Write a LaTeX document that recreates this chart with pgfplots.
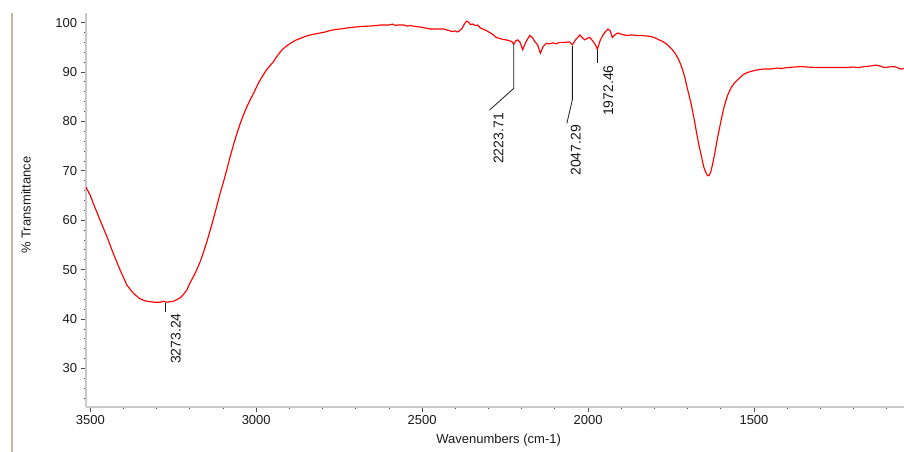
\documentclass[border=0pt]{standalone}
\usepackage{pgfplots}
\pgfplotsset{compat=1.18}
\usepackage{fontspec}
\setmainfont{Liberation Sans}
\definecolor{axisgray}{RGB}{200,200,200}
\definecolor{bargray}{RGB}{190,184,160}
\definecolor{specred}{RGB}{255,0,0}
\definecolor{txt}{RGB}{25,25,25}
\newcommand{\tf}{\fontsize{13bp}{15bp}\selectfont}
\newcommand{\pf}{\fontsize{14bp}{16bp}\selectfont}
\begin{document}
\begin{tikzpicture}
\useasboundingbox (-86bp,-45bp) rectangle (818bp,407bp);
\fill[bargray] (-75bp,-45bp) rectangle (-72.5bp,394.3bp);
\begin{axis}[
  at={(0,0)}, anchor=south west,
  scale only axis, width=818bp, height=394.3bp,
  xmin=1048, xmax=3513, ymin=22.2, ymax=102,
  x dir=reverse,
  axis x line*=bottom, axis y line*=left,
  axis line style={axisgray, line width=2.5bp},
  xtick={1500,2000,2500,3000,3500},
  ytick={30,40,...,100},
  minor xtick={1100,1200,...,3500},
  minor ytick={24,26,...,100},
  tick align=outside,
  major tick length=5bp, minor tick length=2bp,
  tick style={black!70, line width=0.8bp},
  /pgf/number format/1000 sep={},
  /pgf/number format/assume math mode=true,
  ticklabel style={font=\tf, text=txt, inner sep=0pt},
  xticklabel style={yshift=-3bp},
  yticklabel style={xshift=-3.7bp},
  xlabel={Wavenumbers (cm-1)},
  ylabel={\% Transmittance},
  every axis x label/.style={at={(axis description cs:0.5045,-0.0837)}, anchor=center, font=\tf, text=txt},
  every axis y label/.style={at={(axis description cs:-0.0733,0.512)}, anchor=center, rotate=90, font=\tf, text=txt},
]
\addplot[specred, line width=1.15bp] coordinates {
(3513,66.7) (3500,65.0) (3491,63.4) (3471,60.1) (3450,56.7) (3431,53.3) (3410,49.9)
(3390,46.9) (3375,45.6) (3365,44.9) (3350,44.1) (3335,43.7) (3320,43.5) (3305,43.4)
(3290,43.4) (3280,43.6) (3270,43.4) (3260,43.5) (3250,43.6) (3240,43.9) (3229,44.3)
(3219,45.0) (3209,45.9) (3199,47.4) (3189,48.6) (3179,50.0) (3169,51.6) (3159,53.5)
(3149,55.6) (3139,57.9) (3129,60.3) (3119,62.8) (3109,65.4) (3098,67.9) (3088,70.4)
(3078,73.0) (3068,75.4) (3058,77.6) (3048,79.6) (3038,81.4) (3028,83.0) (3018,84.4)
(3008,85.7) (2998,87.1) (2988,88.4) (2978,89.5) (2968,90.5) (2958,91.3) (2948,92.1)
(2935,93.4) (2922,94.5) (2910,95.2) (2897,95.8) (2882,96.4) (2867,96.8) (2852,97.2)
(2837,97.5) (2822,97.7) (2807,97.9) (2792,98.1) (2777,98.4) (2762,98.6) (2747,98.7)
(2717,99.0) (2686,99.2) (2656,99.3) (2626,99.5) (2600,99.5) (2590,99.7) (2580,99.4)
(2575,99.5) (2555,99.5) (2545,99.3) (2535,99.4) (2520,99.2) (2505,99.1) (2490,98.9)
(2475,98.7) (2455,98.7) (2435,98.7) (2420,98.4) (2409,98.2) (2400,98.3) (2395,98.1)
(2390,98.2) (2380,98.8) (2372,99.8) (2366,100.3) (2360,100.1) (2355,99.6) (2348,99.7)
(2340,99.4) (2333,99.5) (2324,98.9) (2317,98.7) (2307,98.4) (2297,98.0) (2287,97.6)
(2277,97.0) (2267,96.8) (2257,96.6) (2247,96.5) (2237,96.3) (2230,96.2) (2224,95.6)
(2218,96.3) (2212,96.5) (2205,96.0) (2197,94.5) (2188,96.0) (2176,97.4) (2168,97.0)
(2161,96.2) (2152,95.5) (2144,93.8) (2135,95.2) (2126,95.8) (2116,95.7) (2106,95.9)
(2096,95.7) (2086,96.0) (2070,96.0) (2056,96.1) (2047,95.5) (2038,96.5) (2030,97.1)
(2025,97.5) (2018,97.0) (2010,96.5) (2003,96.8) (1995,97.0) (1985,96.2) (1978,95.5)
(1972,94.6) (1964,96.3) (1955,97.5) (1947,98.2) (1940,98.7) (1933,98.3) (1927,97.0)
(1918,97.6) (1910,97.9) (1898,97.6) (1885,97.4) (1870,97.5) (1855,97.4) (1841,97.4)
(1826,97.3) (1811,97.2) (1798,96.9) (1786,96.5) (1776,96.2) (1766,95.8) (1756,95.2)
(1746,94.5) (1737,93.7) (1729,92.8) (1722,91.7) (1715,90.4) (1708,88.8) (1702,87.0)
(1696,85.4) (1690,83.7) (1684,81.7) (1678,79.6) (1672,77.3) (1665,74.9) (1658,72.8)
(1652,70.9) (1646,69.8) (1640,69.0) (1635,69.1) (1630,69.8) (1624,71.6) (1618,73.6)
(1612,75.9) (1605,78.3) (1598,80.6) (1590,83.0) (1580,85.2) (1570,86.7) (1560,87.7)
(1550,88.4) (1540,89.0) (1530,89.6) (1515,90.0) (1499,90.3) (1484,90.5) (1469,90.6)
(1449,90.6) (1430,90.8) (1418,90.7) (1399,90.9) (1380,91.0) (1358,91.1) (1340,91.0)
(1308,90.9) (1280,90.9) (1250,90.9) (1221,90.9) (1200,91.0) (1185,90.9) (1168,91.1)
(1150,91.2) (1132,91.4) (1120,91.2) (1107,90.9) (1095,91.0) (1077,91.1) (1065,90.8)
(1057,90.6) (1048,90.7)
};
% leader lines
\addplot[txt, line width=0.8bp] coordinates {(3273.24,43.2) (3273.24,41.5)};
\addplot[txt, line width=0.8bp] coordinates {(2223.71,95.6) (2223.71,86.7) (2297,82.3)};
\addplot[txt, line width=0.8bp] coordinates {(2047.29,95.3) (2047.29,84.4) (2064,79.6)};
\addplot[txt, line width=0.8bp] coordinates {(1972.46,94.4) (1972.46,91.8)};
\node[rotate=90, anchor=east, inner sep=0pt, font=\pf, text=txt] at (axis cs:3242,41.2) {3273.24};
\node[rotate=90, anchor=east, inner sep=0pt, font=\pf, text=txt] at (axis cs:2270,81.7) {2223.71};
\node[rotate=90, anchor=east, inner sep=0pt, font=\pf, text=txt] at (axis cs:2037,79.3) {2047.29};
\node[rotate=90, anchor=east, inner sep=0pt, font=\pf, text=txt] at (axis cs:1939,91.4) {1972.46};
\end{axis}
\end{tikzpicture}
\end{document}
